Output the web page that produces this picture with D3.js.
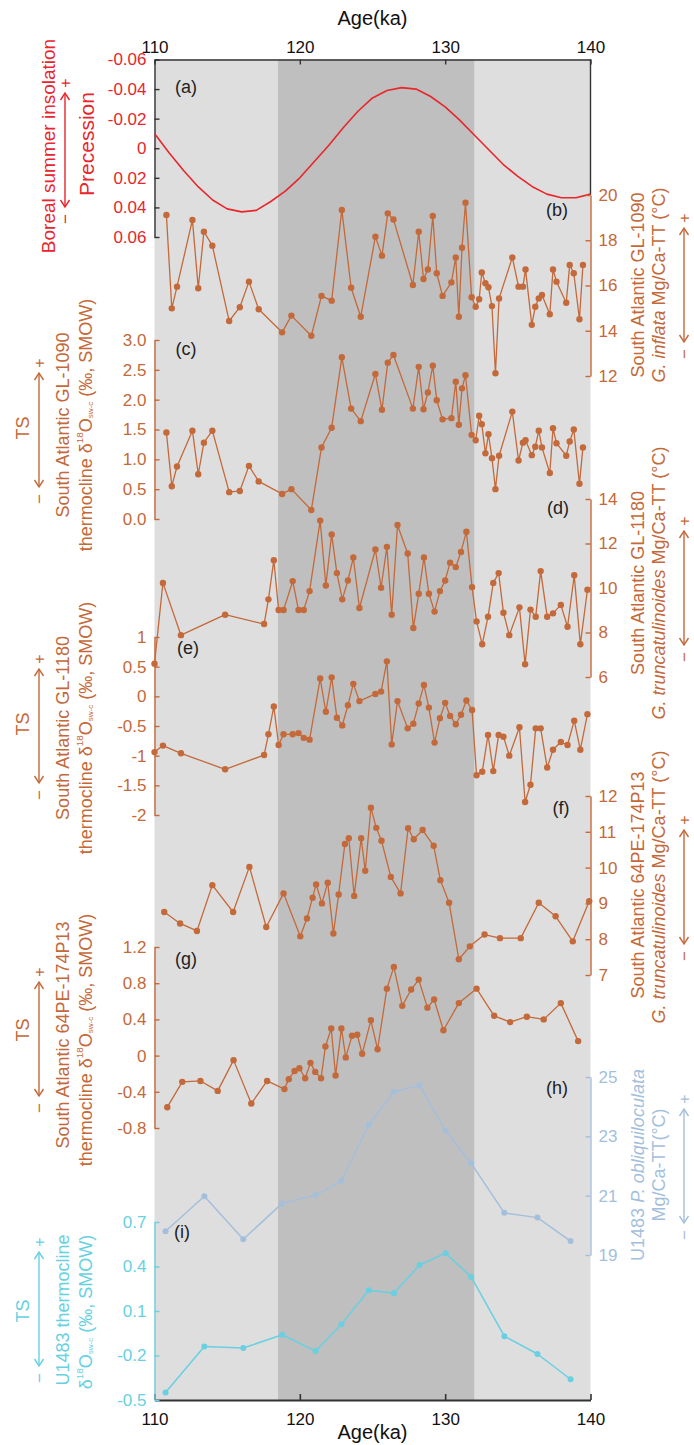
<!DOCTYPE html>
<html><head><meta charset="utf-8">
<script src="https://cdn.jsdelivr.net/npm/d3@7"></script>
<style>
html,body{margin:0;padding:0;background:#fff;}
svg{display:block;}
</style></head><body>
<svg id="chart" width="694" height="1445"></svg>
<script>
// ---------- data ----------
const ageTicks = [110, 120, 130, 140];
const bandStart = 118.5, bandEnd = 132;

// (a) precession index
const precAge = [110,111,112,113,114,115,116,117,118,119,120,121,122,123,124,125,126,127,128,129,130,131,132,133,134,135,136,137,138,139,140];
const precVal = [-0.010,0.003,0.015,0.026,0.035,0.041,0.043,0.042,0.036,0.029,0.020,0.009,-0.002,-0.014,-0.025,-0.034,-0.039,-0.041,-0.040,-0.035,-0.028,-0.019,-0.009,0.001,0.011,0.019,0.026,0.031,0.0335,0.0335,0.031];
const precTicks = [-0.06,-0.04,-0.02,0,0.02,0.04,0.06];
const precLabels = ["-0.06","-0.04","-0.02","0","0.02","0.04","0.06"];

// (b)(c) GL-1090
const gl1090Age = [110.82,111.19,111.55,112.61,113.01,113.40,113.98,115.14,115.87,116.50,117.17,118.78,119.42,120.79,121.49,122.19,122.89,123.53,124.19,125.20,125.65,126.05,126.44,127.78,128.18,128.51,128.81,129.15,129.42,129.82,130.43,130.73,130.94,131.16,131.40,131.82,132.10,132.34,132.52,132.77,132.98,133.22,133.46,133.71,134.62,135.05,135.35,135.53,135.96,136.20,136.44,136.66,137.20,137.42,137.66,138.33,138.57,138.85,139.24,139.48];
const gl1090MgCa = [19.12,14.99,15.95,18.90,15.88,18.38,17.76,14.43,15.04,16.17,14.95,13.93,14.67,13.78,15.54,15.33,19.34,15.90,14.62,18.16,17.32,19.19,18.92,16.02,18.38,16.29,16.71,19.07,16.54,15.54,16.14,17.24,14.62,17.67,19.66,15.48,15.06,15.39,16.58,16.10,15.92,15.09,12.12,15.43,17.24,15.95,15.95,16.71,14.26,15.06,15.43,15.58,14.73,16.71,16.17,15.24,16.91,16.54,14.51,16.91];
const gl1090D18O = [1.45,0.55,0.88,1.48,0.75,1.28,1.48,0.45,0.47,0.89,0.63,0.42,0.50,0.15,1.20,1.53,2.71,1.85,1.64,2.43,1.83,2.62,2.75,1.85,2.55,1.84,2.12,2.57,1.99,1.67,1.69,2.30,1.58,2.19,2.41,1.41,1.32,1.73,1.59,1.10,1.42,1.02,0.50,1.06,1.80,0.98,1.28,1.32,1.07,1.21,1.48,1.20,0.77,1.52,1.27,1.06,1.30,1.50,0.59,1.20];
const mgcaBTicks = [12,14,16,18,20];
const d18oCTicks = [0,0.5,1,1.5,2,2.5,3];
const d18oCLabels = ["0.0","0.5","1.0","1.5","2.0","2.5","3.0"];

// (d)(e) GL-1180
const gl1180Age = [110.00,110.58,111.82,114.86,117.54,117.84,118.21,118.54,118.88,119.51,119.91,120.27,120.67,121.40,121.79,122.19,122.55,122.92,123.31,123.68,124.10,125.20,125.59,125.99,126.32,126.72,127.42,127.81,128.18,128.54,128.88,129.27,129.64,130.00,130.34,130.73,131.09,131.46,131.85,132.16,132.55,132.95,133.31,133.68,134.01,134.41,135.11,135.50,135.87,136.23,136.57,137.02,137.42,137.96,138.42,138.88,139.30,139.79];
const gl1180MgCa = [6.60,10.23,7.88,8.80,8.38,9.49,11.25,9.01,9.01,10.31,9.01,9.01,9.86,13.03,10.11,12.41,10.67,9.49,10.34,11.37,9.10,11.73,10.01,11.85,8.80,12.83,11.55,8.20,9.74,11.37,9.74,8.94,9.86,10.34,11.14,10.94,11.62,12.53,10.04,8.50,7.47,8.71,10.23,10.67,8.89,7.88,9.13,6.57,9.03,8.71,10.76,8.71,8.86,9.24,8.26,10.57,7.47,9.92];
const gl1180D18O = [-0.94,-0.83,-0.96,-1.23,-0.99,-0.64,-0.17,-0.82,-0.64,-0.64,-0.62,-0.70,-0.73,0.30,-0.26,0.32,-0.36,-0.49,-0.15,0.21,-0.08,0.04,0.08,0.59,-0.81,-0.08,-0.54,-0.46,-0.12,0.19,-0.19,-0.78,-0.37,-0.11,-0.33,-0.47,-0.31,-0.07,-0.23,-1.33,-1.27,-0.65,-1.26,-0.65,-0.68,-1.00,-0.52,-1.78,-1.49,-0.54,-0.54,-1.20,-0.90,-0.77,-0.82,-0.41,-0.90,-0.30];
const mgcaDTicks = [6,8,10,12,14];
const d18oETicks = [-2,-1.5,-1,-0.5,0,0.5,1];
const d18oELabels = ["-2","-1.5","-1","-0.5","0","0.5","1"];

// (f)(g) 64PE-174P13
const p13MgCaAge = [110.67,111.76,112.92,113.98,115.41,116.53,117.69,118.88,120.03,120.49,120.88,121.12,121.52,121.92,122.31,122.67,123.10,123.37,123.74,124.22,124.50,124.89,125.26,125.62,126.26,126.93,127.45,127.84,128.45,129.21,129.67,130.27,130.94,131.70,132.71,133.77,135.20,136.44,137.60,138.78,139.91];
const p13MgCa = [8.76,8.44,8.23,9.51,8.76,10.02,8.34,9.28,8.08,8.58,9.16,9.53,9.00,9.58,8.16,9.25,10.66,10.82,9.21,10.82,9.91,11.67,11.11,10.75,9.74,9.28,11.10,10.79,11.05,10.61,9.65,9.02,7.44,7.80,8.13,8.03,8.03,9.02,8.64,7.94,9.06];
const p13D18OAge = [110.88,111.91,113.16,114.35,115.44,116.66,117.75,118.94,119.24,119.64,119.97,120.37,120.73,121.06,121.46,121.76,122.16,122.46,122.86,123.16,123.59,123.95,124.29,124.89,125.35,125.99,126.47,127.05,127.66,128.18,128.78,129.24,129.88,130.94,132.16,133.37,134.47,135.62,136.78,137.96,139.15];
const p13D18O = [-0.57,-0.29,-0.28,-0.39,-0.05,-0.53,-0.28,-0.37,-0.26,-0.17,-0.14,-0.25,-0.08,-0.18,-0.25,0.10,0.30,-0.22,0.30,-0.02,0.22,0.23,0.02,0.39,0.07,0.74,0.98,0.55,0.73,0.84,0.53,0.62,0.28,0.58,0.74,0.44,0.37,0.43,0.40,0.58,0.16];
const mgcaFTicks = [7,8,9,10,11,12];
const d18oGTicks = [-0.8,-0.4,0,0.4,0.8,1.2];
const d18oGLabels = ["-0.8","-0.4","0","0.4","0.8","1.2"];

// (h)(i) U1483
const u1483Age = [110.76,113.43,116.11,118.78,121.09,122.86,124.74,126.47,128.24,130.03,131.79,134.07,136.35,138.63];
const u1483MgCa = [19.80,20.98,19.53,20.74,21.02,21.50,23.39,24.50,24.72,23.19,22.09,20.42,20.26,19.47];
const u1483D18O = [-0.45,-0.14,-0.15,-0.06,-0.17,0.01,0.24,0.22,0.41,0.49,0.33,-0.07,-0.19,-0.36];
const mgcaHTicks = [19,21,23,25];
const d18oITicks = [-0.5,-0.2,0.1,0.4,0.7];
const d18oILabels = ["-0.5","-0.2","0.1","0.4","0.7"];

// ---------- styling ----------
const FONT = "'Liberation Sans', Arial, sans-serif";
const RED = "#e8262b", BROWN = "#c4693a", STEEL = "#a4bfdc", CYAN = "#68d0e1", INK = "#333";
const TICK_FS = 17, LABEL_FS = 18;

const svg = d3.select("#chart").attr("font-family", FONT);
const x = d3.scaleLinear().domain([110, 140]).range([154.5, 590.5]);
const plotTop = 59.5, plotBottom = 1400;

// shaded background and interglacial band
svg.append("rect").attr("x", x(110)).attr("y", plotTop)
  .attr("width", x(140) - x(110)).attr("height", plotBottom - plotTop).attr("fill", "#dedede");
svg.append("rect").attr("x", x(bandStart)).attr("y", plotTop)
  .attr("width", x(bandEnd) - x(bandStart)).attr("height", plotBottom - plotTop).attr("fill", "#bfbfbf");

// ---------- helpers ----------
function yAxis(side, scale, vals, labels, textColor, lineColor) {
  const ax = (side === "left" ? d3.axisLeft(scale) : d3.axisRight(scale))
    .tickValues(vals)
    .tickFormat(d => labels ? labels[vals.indexOf(d)] : String(d))
    .tickSizeInner(-5).tickSizeOuter(0).tickPadding(8);
  const g = svg.append("g")
    .attr("transform", `translate(${side === "left" ? x(110) : x(140)},0)`)
    .call(ax).attr("font-family", FONT).attr("font-size", TICK_FS);
  g.select(".domain").attr("stroke", lineColor).attr("stroke-width", 1.4);
  g.selectAll(".tick line").attr("stroke", lineColor).attr("stroke-width", 1.4);
  g.selectAll(".tick text").attr("fill", textColor);
  return g;
}

function series(ages, vals, yScale, color, r, width) {
  const pts = ages.map((a, i) => [a, vals[i]]);
  svg.append("path").datum(pts)
    .attr("fill", "none").attr("stroke", color).attr("stroke-width", width)
    .attr("stroke-linejoin", "round")
    .attr("d", d3.line().x(d => x(d[0])).y(d => yScale(d[1])));
  if (r > 0) {
    svg.append("g").selectAll("circle").data(pts).join("circle")
      .attr("cx", d => x(d[0])).attr("cy", d => yScale(d[1])).attr("r", r).attr("fill", color);
  }
}

// rotated multi-part label; parts: {t, it, sup, sub}
function vlabel(cx, cy, parts, size, color) {
  const t = svg.append("text")
    .attr("transform", `translate(${cx},${cy}) rotate(-90)`)
    .attr("text-anchor", "middle").attr("dominant-baseline", "central")
    .attr("font-size", size).attr("fill", color);
  let shift = 0;
  parts.forEach(p => {
    const s = t.append("tspan").text(p.t);
    let target = 0;
    if (p.sup) { s.attr("font-size", size * 0.55); target = -size * 0.38; }
    if (p.sub) { s.attr("font-size", size * 0.45); target = size * 0.22; }
    if (p.it) s.attr("font-style", "italic");
    if (target !== shift) { s.attr("dy", target - shift); shift = target; }
  });
  return t;
}

// double-headed vertical arrow with "+" on top and "−" below
function tsArrow(cx, cy, color) {
  const top = cy - 57, bot = cy + 57;
  svg.append("line").attr("x1", cx).attr("x2", cx).attr("y1", top).attr("y2", bot)
    .attr("stroke", color).attr("stroke-width", 1.4);
  svg.append("path").attr("d", `M${cx - 4.5},${top + 7}L${cx},${top}L${cx + 4.5},${top + 7}`)
    .attr("fill", "none").attr("stroke", color).attr("stroke-width", 1.4);
  svg.append("path").attr("d", `M${cx - 4.5},${bot - 7}L${cx},${bot}L${cx + 4.5},${bot - 7}`)
    .attr("fill", "none").attr("stroke", color).attr("stroke-width", 1.4);
  vlabel(cx, cy - 67, [{t: "+"}], 16, color);
  vlabel(cx, cy + 69, [{t: "\u2212"}], 17, color);
}

function panelTag(cx, cy, s) {
  svg.append("text").attr("x", cx).attr("y", cy).attr("text-anchor", "middle")
    .attr("dominant-baseline", "central").attr("font-size", 18).attr("fill", "#222").text(s);
}

const d18oParts = (pre) => [
  {t: pre + "\u03b4"}, {t: "18", sup: true}, {t: "O"}, {t: "sw-c", sub: true}, {t: " (\u2030, SMOW)"}
];

// ---------- x axes ----------
const topAx = svg.append("g").attr("transform", `translate(0,${plotTop})`)
  .call(d3.axisTop(x).tickValues(ageTicks).tickSizeInner(-5).tickSizeOuter(0).tickPadding(6.5))
  .attr("font-family", FONT).attr("font-size", TICK_FS);
topAx.select(".domain").attr("stroke", INK).attr("stroke-width", 1.4);
topAx.selectAll(".tick line").attr("stroke", INK).attr("stroke-width", 1.4);
topAx.selectAll(".tick text").attr("fill", "#111");

const botAx = svg.append("g").attr("transform", `translate(0,${plotBottom})`)
  .call(d3.axisBottom(x).tickValues(ageTicks).tickSizeInner(-6).tickSizeOuter(0).tickPadding(13))
  .attr("font-family", FONT).attr("font-size", TICK_FS);
botAx.select(".domain").attr("stroke", INK).attr("stroke-width", 2.2);
botAx.selectAll(".tick line").attr("stroke", INK).attr("stroke-width", 1.6);
botAx.selectAll(".tick text").attr("fill", "#111");

svg.append("text").attr("x", x(125)).attr("y", 25).attr("text-anchor", "middle")
  .attr("font-size", 20).attr("fill", "#111").text("Age(ka)");
svg.append("text").attr("x", x(125)).attr("y", 1439).attr("text-anchor", "middle")
  .attr("font-size", 20).attr("fill", "#111").text("Age(ka)");

// ---------- (a) precession ----------
const yA = d3.scaleLinear().domain([-0.06, 0.06]).range([plotTop, 237]);
svg.append("line").attr("x1", x(140)).attr("x2", x(140)).attr("y1", plotTop).attr("y2", 195)
  .attr("stroke", INK).attr("stroke-width", 1.4);
yAxis("left", yA, precTicks, precLabels, RED, INK);
series(precAge, precVal, yA, RED, 0, 1.6);
vlabel(48, 146, [{t: "Boreal summer insolation"}], 19, RED);
vlabel(86, 144, [{t: "Precession"}], 21, RED);
tsArrow(65, 150, RED);
panelTag(186, 87, "(a)");

// ---------- (b) GL-1090 Mg/Ca ----------
const yB = d3.scaleLinear().domain([12, 20]).range([376, 195]);
yAxis("right", yB, mgcaBTicks, null, BROWN, BROWN);
series(gl1090Age, gl1090MgCa, yB, BROWN, 3.2, 1.3);
vlabel(638, 285, [{t: "South Atlantic GL-1090"}], LABEL_FS, BROWN);
vlabel(659, 285, [{t: "G. inflata", it: true}, {t: " Mg/Ca-TT (\u00b0C)"}], LABEL_FS, BROWN);
tsArrow(684, 285, BROWN);
panelTag(557, 210, "(b)");

// ---------- (c) GL-1090 δ18O ----------
const yC = d3.scaleLinear().domain([0, 3]).range([519, 340]);
yAxis("left", yC, d18oCTicks, d18oCLabels, BROWN, BROWN);
series(gl1090Age, gl1090D18O, yC, BROWN, 3.2, 1.3);
vlabel(23, 428, [{t: "TS"}], LABEL_FS, BROWN);
tsArrow(39, 430, BROWN);
vlabel(63, 425, [{t: "South Atlantic GL-1090"}], LABEL_FS, BROWN);
vlabel(86, 425, d18oParts("thermocline "), LABEL_FS, BROWN);
panelTag(186, 349, "(c)");

// ---------- (d) GL-1180 Mg/Ca ----------
const yD = d3.scaleLinear().domain([6, 14]).range([677, 499]);
yAxis("right", yD, mgcaDTicks, null, BROWN, BROWN);
series(gl1180Age, gl1180MgCa, yD, BROWN, 3.2, 1.3);
vlabel(638, 583, [{t: "South Atlantic GL-1180"}], LABEL_FS, BROWN);
vlabel(659, 583, [{t: "G. truncatulinoides", it: true}, {t: " Mg/Ca-TT (\u00b0C)"}], LABEL_FS, BROWN);
tsArrow(684, 588, BROWN);
panelTag(558, 508, "(d)");

// ---------- (e) GL-1180 δ18O ----------
const yE = d3.scaleLinear().domain([-2, 1]).range([815, 637]);
yAxis("left", yE, d18oETicks, d18oELabels, BROWN, BROWN);
series(gl1180Age, gl1180D18O, yE, BROWN, 3.2, 1.3);
vlabel(23, 724, [{t: "TS"}], LABEL_FS, BROWN);
tsArrow(39, 726, BROWN);
vlabel(63, 728, [{t: "South Atlantic GL-1180"}], LABEL_FS, BROWN);
vlabel(86, 728, d18oParts("thermocline "), LABEL_FS, BROWN);
panelTag(188, 648, "(e)");

// ---------- (f) 64PE-174P13 Mg/Ca ----------
const yF = d3.scaleLinear().domain([7, 12]).range([975, 796]);
yAxis("right", yF, mgcaFTicks, null, BROWN, BROWN);
series(p13MgCaAge, p13MgCa, yF, BROWN, 3.2, 1.3);
vlabel(638, 885, [{t: "South Atlantic 64PE-174P13"}], LABEL_FS, BROWN);
vlabel(659, 887, [{t: "G. truncatulinoides", it: true}, {t: " Mg/Ca-TT (\u00b0C)"}], LABEL_FS, BROWN);
tsArrow(684, 887, BROWN);
panelTag(561, 808, "(f)");

// ---------- (g) 64PE-174P13 δ18O ----------
const yG = d3.scaleLinear().domain([-0.8, 1.2]).range([1128, 947]);
yAxis("left", yG, d18oGTicks, d18oGLabels, BROWN, BROWN);
series(p13D18OAge, p13D18O, yG, BROWN, 3.2, 1.3);
vlabel(23, 1030, [{t: "TS"}], LABEL_FS, BROWN);
tsArrow(39, 1039, BROWN);
vlabel(63, 1035, [{t: "South Atlantic 64PE-174P13"}], LABEL_FS, BROWN);
vlabel(86, 1040, d18oParts("thermocline "), LABEL_FS, BROWN);
panelTag(186, 959, "(g)");

// ---------- (h) U1483 Mg/Ca ----------
const yH = d3.scaleLinear().domain([19, 25]).range([1255, 1077]);
yAxis("right", yH, mgcaHTicks, null, STEEL, STEEL);
series(u1483Age, u1483MgCa, yH, STEEL, 3, 1.5);
vlabel(638, 1165, [{t: "U1483 "}, {t: "P. obliquiloculata", it: true}], LABEL_FS, STEEL);
vlabel(659, 1165, [{t: "Mg/Ca-TT(\u00b0C)"}], LABEL_FS, STEEL);
tsArrow(684, 1166, STEEL);
panelTag(557, 1088, "(h)");

// ---------- (i) U1483 δ18O ----------
const yI = d3.scaleLinear().domain([-0.5, 0.7]).range([1400, 1222]);
yAxis("left", yI, d18oITicks, d18oILabels, CYAN, CYAN);
series(u1483Age, u1483D18O, yI, CYAN, 3, 1.5);
vlabel(23, 1311, [{t: "TS"}], LABEL_FS, CYAN);
tsArrow(39, 1309, CYAN);
vlabel(63, 1310, [{t: "U1483 thermocline"}], LABEL_FS, CYAN);
vlabel(86, 1312, d18oParts(""), LABEL_FS, CYAN);
panelTag(182, 1232, "(i)");
</script>
</body></html>
